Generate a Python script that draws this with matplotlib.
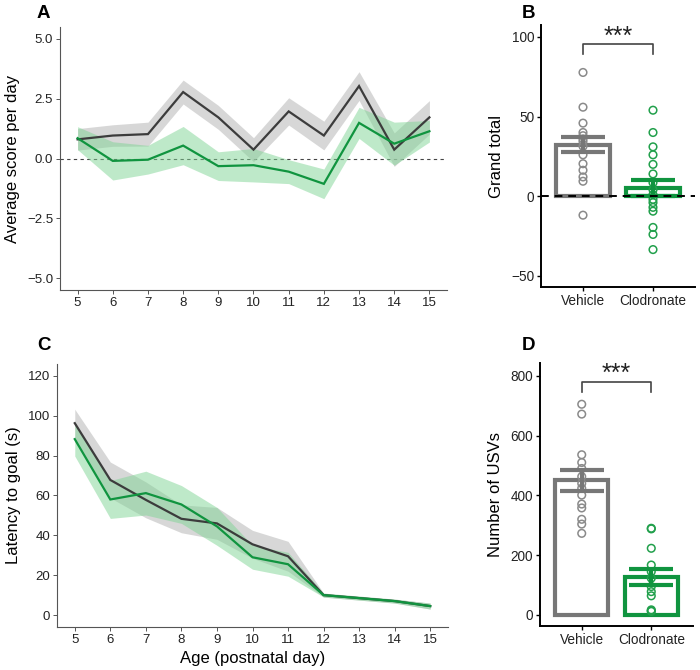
import numpy as np
import matplotlib
matplotlib.use("Agg")
import matplotlib.pyplot as plt

plt.rcParams['font.family'] = ['Liberation Sans', 'DejaVu Sans']

days = [5, 6, 7, 8, 9, 10, 11, 12, 13, 14, 15]

# Panel A: average score per day (mean, SE)
score_veh = [0.80, 0.96, 1.02, 2.78, 1.72, 0.37, 1.97, 0.96, 3.03, 0.37, 1.72]
score_veh_se = [0.45, 0.45, 0.50, 0.50, 0.50, 0.50, 0.57, 0.60, 0.60, 0.70, 0.70]
score_clo = [0.85, -0.10, -0.05, 0.54, -0.32, -0.28, -0.55, -1.06, 1.49, 0.62, 1.14]
score_clo_se = [0.48, 0.80, 0.60, 0.80, 0.60, 0.70, 0.50, 0.62, 0.65, 0.90, 0.45]

# Panel C: latency to goal (mean, SE)
lat_veh = [96.3, 67.8, 57.8, 48.3, 46.0, 35.5, 29.5, 10.0, 8.5, 7.0, 4.5]
lat_veh_se = [7.0, 9.0, 9.0, 7.0, 8.0, 7.0, 7.5, 1.0, 1.0, 1.0, 1.5]
lat_clo = [88.3, 58.0, 61.2, 55.5, 44.5, 29.0, 25.5, 10.0, 8.5, 7.0, 4.5]
lat_clo_se = [8.5, 9.5, 11.0, 9.5, 9.5, 6.0, 6.0, 1.0, 1.0, 1.0, 1.5]

groups = ["Vehicle", "Clodronate"]

# Panel B: grand total
grand_mean = [32.3, 5.2]
grand_se = [4.7, 5.2]
grand_veh_pts = [77.7, 55.9, 45.9, 40.0, 38.0, 36.0, 34.4, 31.3, 26.0, 20.4, 16.3, 12.1, 9.4, -11.9]
grand_clo_pts = [54.0, 40.0, 31.0, 26.0, 20.0, 14.0, 8.5, 4.0, 1.0, -2.0, -4.0, -7.0, -9.4, -19.6, -24.0, -33.5]

# Panel D: number of USVs
usv_mean = [450.0, 127.0]
usv_se = [36.0, 27.0]
usv_veh_pts = [705, 672, 536, 510, 490, 463, 440, 424, 401, 371, 358, 320, 304, 273]
usv_clo_pts = [290, 288, 223, 167, 145, 123, 95, 78, 64, 17, 14, 12]

GREY_LINE = "#3c3c3c"
GREY_BAND = "#bdbdbd"
GREEN = "#10943f"
GREEN_BAND = "#7fd494"
BAR_GREY = "#777777"
PT_GREY = "#8a8a8a"
PT_GREEN = "#22a04c"

fig = plt.figure(figsize=(7.0, 6.7), dpi=100)
W, H = 700.0, 670.0

def add_ax(l, t, r, b):
    return fig.add_axes([l / W, 1 - b / H, (r - l) / W, (b - t) / H])

axA = add_ax(60, 27, 447, 290)
axB = add_ax(541, 25, 695, 287)
axC = add_ax(57, 364, 448, 627)
axD = add_ax(540, 363, 693, 626)

def line_panel(ax, yv, yvse, yc, ycse):
    x = np.array(days)
    yv, yvse, yc, ycse = map(np.array, (yv, yvse, yc, ycse))
    ax.fill_between(x, yv - yvse, yv + yvse, color=GREY_BAND, alpha=0.6, lw=0)
    ax.fill_between(x, yc - ycse, yc + ycse, color=GREEN_BAND, alpha=0.5, lw=0)
    ax.plot(x, yv, color=GREY_LINE, lw=1.6, solid_joinstyle='miter')
    ax.plot(x, yc, color=GREEN, lw=1.6, solid_joinstyle='miter')
    ax.set_xlim(4.5, 15.5)
    ax.set_xticks(days)
    for s in ("top", "right"):
        ax.spines[s].set_visible(False)
    for s in ("left", "bottom"):
        ax.spines[s].set_color("#555555")
        ax.spines[s].set_linewidth(0.8)
    ax.tick_params(length=3, width=0.7, color="#555555", labelsize=9.5, labelcolor="#222222", pad=2)

line_panel(axA, score_veh, score_veh_se, score_clo, score_clo_se)
axA.axhline(0, color="#444444", lw=0.8, ls=(0, (3, 3)), zorder=0.5)
axA.set_ylim(-5.5, 5.5)
axA.set_yticks([-5.0, -2.5, 0.0, 2.5, 5.0])
axA.set_yticklabels(["\u22125.0", "\u22122.5", "0.0", "2.5", "5.0"])
axA.set_ylabel("Average score per day", fontsize=12, labelpad=5)

line_panel(axC, lat_veh, lat_veh_se, lat_clo, lat_clo_se)
axC.set_ylim(-6, 126)
axC.set_yticks([0, 20, 40, 60, 80, 100, 120])
axC.set_ylabel("Latency to goal (s)", fontsize=12, labelpad=5)
axC.set_xlabel("Age (postnatal day)", fontsize=12, labelpad=4)

def bar_panel(ax, means, ses, pts_v, pts_c):
    xpos = np.arange(1, len(groups) + 1)
    cols = [BAR_GREY, GREEN]
    ax.bar(xpos, means, width=0.76, facecolor="white", edgecolor=cols, linewidth=3, zorder=2)
    ax.scatter(np.full(len(pts_v), xpos[0]), pts_v, s=30, facecolor="none", edgecolor=PT_GREY, linewidth=1.1, zorder=3)
    ax.scatter(np.full(len(pts_c), xpos[1]), pts_c, s=30, facecolor="none", edgecolor=PT_GREEN, linewidth=1.1, zorder=3)
    for i in range(len(groups)):
        ax.errorbar(xpos[i], means[i], yerr=ses[i], color=cols[i], lw=3, capsize=16, capthick=3, zorder=4)
    ax.set_xlim(0.4, 2.6)
    ax.set_xticks(xpos)
    ax.set_xticklabels(groups)
    for s in ("top", "right"):
        ax.spines[s].set_visible(False)
    for s in ("left", "bottom"):
        ax.spines[s].set_color("black")
        ax.spines[s].set_linewidth(1.4)
    ax.tick_params(length=3, width=1, labelsize=9.8, labelcolor="#222222", pad=2)
    return xpos

def bracket(ax, xpos, y_top, y_bot, y_text):
    ax.plot([xpos[0], xpos[0], xpos[1], xpos[1]], [y_bot, y_top, y_top, y_bot], color="#444444", lw=1.2, clip_on=False)
    ax.text((xpos[0] + xpos[1]) / 2, y_text, "***", ha="center", va="center", fontsize=18, color="#222222")

xb = bar_panel(axB, grand_mean, grand_se, grand_veh_pts, grand_clo_pts)
axB.axhline(0, color="black", lw=1.4, ls=(0, (4, 3)), zorder=5)
axB.set_ylim(-57, 107.5)
axB.set_yticks([-50, 0, 50, 100])
axB.set_yticklabels(["\u221250", "0", "50", "100"])
axB.set_ylabel("Grand total", fontsize=12, labelpad=5)
bracket(axB, xb, 95.4, 89.0, 100.0)

xd = bar_panel(axD, usv_mean, usv_se, usv_veh_pts, usv_clo_pts)
axD.set_ylim(-37, 843)
axD.set_yticks([0, 200, 400, 600, 800])
axD.set_ylabel("Number of USVs", fontsize=12, labelpad=5)
bracket(axD, xd, 781, 747, 808)

for lab, x, y in (("A", 37, 13), ("B", 522, 13), ("C", 37, 346), ("D", 522, 346)):
    fig.text(x / W, 1 - y / H, lab, fontsize=13.5, fontweight="bold", ha="left", va="center")

fig.savefig("out.png", dpi=100)
